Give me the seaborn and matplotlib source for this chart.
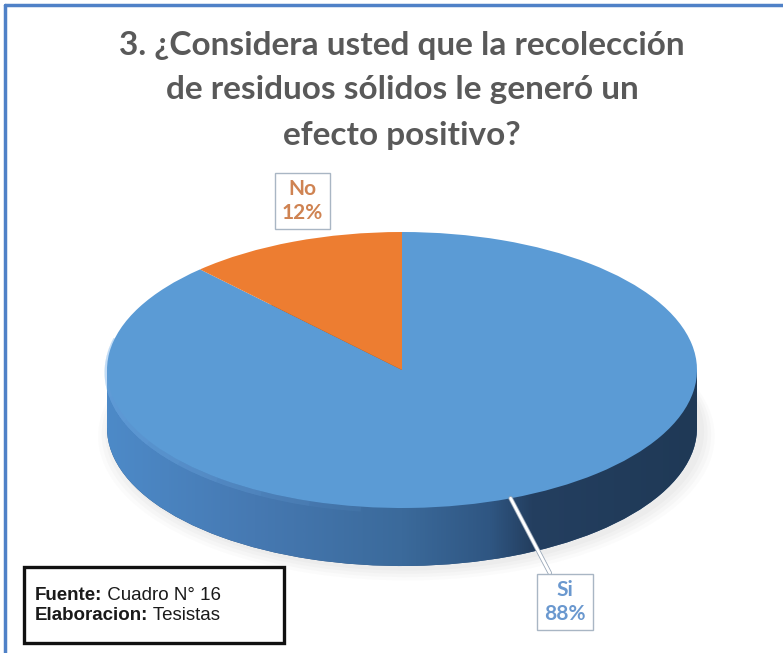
import numpy as np
import matplotlib
matplotlib.use("Agg")
import matplotlib.pyplot as plt
import seaborn as sns
from matplotlib.colors import LinearSegmentedColormap
from matplotlib.patches import Rectangle, Arc
from matplotlib.lines import Line2D
import matplotlib.patheffects as pe

# ---------------- data ----------------
categories = ["Si", "No"]
values = [88, 12]
pct_labels = ["88%", "12%"]
slice_colors = ["#5B9BD5", "#ED7D31"]
label_colors = ["#6A98CF", "#CF8352"]
title_lines = ["3. ¿Considera usted que la recolección",
               "de residuos sólidos le generó un",
               "efecto positivo?"]
source_bold = ["Fuente:", "Elaboracion:"]
source_text = [" Cuadro N° 16", " Tesistas"]

sns.set_theme(style="white")
plt.rcParams["font.family"] = ["Lato", "DejaVu Sans"]

W, H = 783, 653
fig = plt.figure(figsize=(W / 100, H / 100), dpi=100)
fig.patch.set_facecolor("white")
ax = fig.add_axes([0, 0, 1, 1])

# geometry of the projected pie (pixels)
CX, CY = 402, 370      # centre of top face
RX, RY = 295, 138      # semi-axes of top face
DEPTH = 58             # thickness of the pie side
dd = DEPTH / RY

def px(x, y):
    return ((x - CX) / RX, (CY - y) / RY)

def set_limits():
    ax.set_aspect("auto")
    ax.set_xlim(-CX / RX, (W - CX) / RX)
    ax.set_ylim(-(H - CY) / RY, CY / RY)

# soft shadow
for i, a in enumerate([0.025, 0.03, 0.035, 0.04]):
    r = 1.045 - i * 0.012
    ax.pie(values, colors=["#7a7a7a"] * 2, startangle=90, counterclock=False,
           radius=r, center=(0.015, -dd - 0.06 + i * 0.012),
           wedgeprops=dict(linewidth=0, alpha=a, zorder=1))

# side of the pie: bottom pie + gradient clipped to it
bottom_wedges, _ = ax.pie(values, colors=["#2E5480", "#8a4a1c"], startangle=90,
                          counterclock=False, radius=1, center=(0, -dd),
                          wedgeprops=dict(linewidth=0, zorder=2))
side_cmap = LinearSegmentedColormap.from_list(
    "side", [(0.0, "#4D8AC8"), (0.25, "#4679B2"), (0.5, "#3B6A9B"),
             (0.65, "#2F5682"), (0.72, "#243F60"), (1.0, "#1F3956")])
grad = np.linspace(0, 1, 512).reshape(1, -1)
rect = Rectangle((-1, -dd), 2, dd, transform=ax.transData, visible=False)
ax.add_patch(rect)
for clip in [bottom_wedges[0], bottom_wedges[1], rect]:
    im = ax.imshow(grad, cmap=side_cmap, extent=(-1, 1, -dd - 1.05, 0.0),
                   aspect="auto", zorder=3, interpolation="bilinear")
    im.set_clip_path(clip)

# top face
top_wedges, _ = ax.pie(values, colors=slice_colors, startangle=90,
                       counterclock=False, radius=1, center=(0, 0),
                       wedgeprops=dict(linewidth=0, zorder=5))
# soft light bevel on the left front edge of the top face (fading out)
for t2 in np.linspace(190, 262, 8):
    ax.add_patch(Arc((0, -0.018), 2, 2, theta1=166, theta2=t2, color="#7DB8F0",
                     lw=3.5, alpha=0.07, zorder=4))
set_limits()
ax.axis("off")

# data labels
lab_fs = 15
ax.text(*px(302, 201), f"{categories[1]}\n{pct_labels[1]}", ha="center",
        va="center", fontsize=lab_fs, fontweight="bold",
        color=label_colors[1], linespacing=1.2, zorder=10,
        bbox=dict(boxstyle="square,pad=0.33", fc="white", ec="#A9B6C4", lw=1))
w = top_wedges[0]
mid = np.deg2rad((w.theta1 + w.theta2) / 2)
anchor = (np.cos(mid), np.sin(mid))
ax.annotate(f"{categories[0]}\n{pct_labels[0]}", xy=anchor, xytext=px(565, 602),
            ha="center", va="center", fontsize=lab_fs, fontweight="bold",
            color=label_colors[0], linespacing=1.2, zorder=10,
            bbox=dict(boxstyle="square,pad=0.33", fc="white", ec="#A9B6C4", lw=1),
            arrowprops=dict(arrowstyle="-", color="white", lw=2.0, shrinkA=0,
                            shrinkB=0, zorder=9,
                            path_effects=[pe.Stroke(linewidth=3.2, foreground="#9AA8B8"),
                                          pe.Normal()]))

# title
for i, line in enumerate(title_lines):
    fig.text(402 / W, 1 - (45 + 45 * i) / H, line, ha="center", va="center",
             fontsize=24, fontweight="bold", color="#595959")

# source box
fig.add_artist(Rectangle((24 / W, 1 - 643 / H), 260 / W, 76 / H,
                         transform=fig.transFigure, fill=True, fc="white",
                         ec="#111111", lw=2.4, zorder=20))
src_font = ["Liberation Sans", "DejaVu Sans"]
src_fs = 13.5
bold_texts = []
for i, b in enumerate(source_bold):
    bold_texts.append(fig.text(35 / W, 1 - (595 + 21 * i) / H, b, ha="left",
                               va="center", fontsize=src_fs, fontweight="bold",
                               color="#1a1a1a", family=src_font, zorder=21))
fig.canvas.draw()
renderer = fig.canvas.get_renderer()
for tb, t in zip(bold_texts, source_text):
    bb = tb.get_window_extent(renderer)
    fig.text(bb.x1 / W, tb.get_position()[1], t, ha="left", va="center",
             fontsize=src_fs, color="#1a1a1a", family=src_font, zorder=21)

# outer frame (top and left blue lines)
fig.add_artist(Line2D([5 / W, 1], [1 - 5 / H, 1 - 5 / H], transform=fig.transFigure,
                      color="#4F81C7", lw=2.5))
fig.add_artist(Line2D([5 / W, 5 / W], [0, 1 - 5 / H], transform=fig.transFigure,
                      color="#4F81C7", lw=2.5))

fig.savefig("out.png", dpi=100, facecolor="white")
